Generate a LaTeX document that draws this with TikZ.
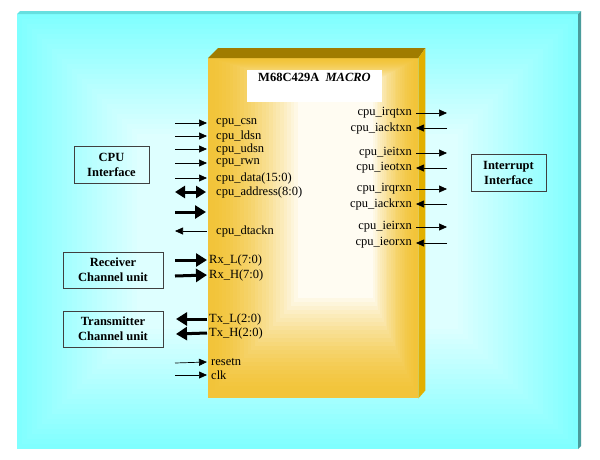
\documentclass[tikz,border=0pt]{standalone}
\usepackage{fontspec}
\setmainfont{Liberation Serif}
\usetikzlibrary{positioning,arrows.meta}

\definecolor{panelout}{HTML}{80FFFF}
\definecolor{panelin}{HTML}{E2FFFF}
\definecolor{paneltop}{HTML}{66E0E0}
\definecolor{panelside}{HTML}{4A9C9C}
\definecolor{chipgold}{HTML}{F2C43A}
\definecolor{chippale}{HTML}{FFFCF2}
\definecolor{chiptop}{HTML}{A07C00}
\definecolor{chipside}{HTML}{E2B000}

\begin{document}
\begin{tikzpicture}[x=1pt, y=-1pt,
  sig/.style={font=\fontsize{12.5}{14}\selectfont, inner ysep=1pt},
  lsig/.style={sig, anchor=west, inner xsep=9pt},
  lsigc/.style={sig, anchor=west, inner xsep=2pt},
  rsig/.style={sig, anchor=east, inner xsep=4pt},
  unit/.style={draw=black!75, line width=0.8pt, align=center, inner sep=0pt, minimum height=37pt, font=\fontsize{12.5}{15}\selectfont\bfseries},
  thinarr/.style={-{Triangle[length=8pt,width=7pt]}, line width=0.7pt},
  boldarr/.style={-{Triangle[length=11pt,width=13pt]}, line width=3pt},
  dboldarr/.style={{Triangle[length=10pt,width=12pt]}-{Triangle[length=10pt,width=12pt]}, line width=3pt}]

\useasboundingbox (0,0) rectangle (600,459);
\fill[white] (0,0) rectangle (600,459);

% panel
\foreach \i in {0,...,24} {
  \pgfmathtruncatemacro{\p}{\i*4}
  \fill[panelin!\p!panelout] (17+\i*5,14+\i*5) rectangle (578-\i*5,449-\i*5);
}
\fill[paneltop] (17,14) -- (20,11) -- (581,11) -- (578,14) -- cycle;
\fill[panelside] (578,14) -- (581,11) -- (581,446) -- (578,449) -- cycle;

% chip
\node[minimum width=210pt, minimum height=340pt, inner sep=0pt, anchor=north west] (chip) at (208,58) {};
\foreach \i in {0,...,25} {
  \pgfmathtruncatemacro{\p}{100*(\i/25)^1.6}
  \fill[chippale!\p!chipgold] (208+\i*3.6,58+\i*1) rectangle (418-\i*1.8,398-\i*4);
}
\fill[chiptop] (chip.north west) -- ([shift={(10,-10)}]chip.north west) -- ([shift={(7,-10)}]chip.north east) -- (chip.north east) -- cycle;
\fill[chipside] (chip.north east) -- ([shift={(7,-10)}]chip.north east) -- ([shift={(7,-8)}]chip.south east) -- (chip.south east) -- cycle;
\node[fill=white, minimum width=135pt, inner xsep=0pt, inner ysep=3pt, text height=8.5pt, text depth=17.5pt, anchor=north, font=\fontsize{12.5}{14}\selectfont\bfseries] (title) at (314.5,70) {M68C429A\ \ \textit{MACRO}};

% units
\node[unit, minimum width=75pt] (cpu) at (111.5,164.5) {CPU\\Interface};
\node[unit, minimum width=75pt] (intr) at (508.5,173) {Interrupt\\Interface};
\node[unit, minimum width=100pt, minimum height=36pt] (rcv) at (113,270) {Receiver\\Channel unit};
\node[unit, minimum width=100pt, minimum height=36pt] (xmt) at (113,329) {Transmitter\\Channel unit};

% cpu signals
\node[lsig] (csn) at (207,123) {cpu\_csn};
\node[lsig] (ldsn) at (207,136) {cpu\_ldsn};
\node[lsig] (udsn) at (207,149) {cpu\_udsn};
\node[lsig] (rwn) at (207,163) {cpu\_rwn};
\node[lsig] (data) at (207,178) {cpu\_data(15:0)};
\node[lsig] (addr) at (207,192) {cpu\_address(8:0)};
\node[lsig] (dtackn) at (207,231) {cpu\_dtackn};
\coordinate (csn-in) at (175,123);
\coordinate (ldsn-in) at (175,136);
\coordinate (udsn-in) at (175,149);
\coordinate (rwn-in) at (175,163);
\coordinate (data-in) at (175,178);
\coordinate (addr-in) at (175,192);
\coordinate (bus-in) at (175,212);
\coordinate (bus-out) at (206,212);
\coordinate (dtackn-out) at (175,231);

% channel signals
\node[lsigc] (rxl) at (207,260) {Rx\_L(7:0)};
\node[lsigc] (rxh) at (207,275) {Rx\_H(7:0)};
\node[lsigc] (txl) at (207,319) {Tx\_L(2:0)};
\node[lsigc] (txh) at (207,333) {Tx\_H(2:0)};
\node[lsigc, inner xsep=4pt] (resetn) at (207,362) {resetn};
\node[lsigc, inner xsep=4pt] (clk) at (207,375) {clk};
\coordinate (rxl-in) at (175,260);
\coordinate (rxh-in) at (175,276);
\coordinate (txl-out) at (176,319);
\coordinate (txh-out) at (176,334);
\coordinate (resetn-in) at (175,363);
\coordinate (clk-in) at (175,375);

% interrupt signals
\node[rsig] (irqtxn) at (416,113) {cpu\_irqtxn};
\node[rsig] (iacktxn) at (416,128) {cpu\_iacktxn};
\node[rsig] (ieitxn) at (416,153) {cpu\_ieitxn};
\node[rsig] (ieotxn) at (416,168) {cpu\_ieotxn};
\node[rsig] (irqrxn) at (416,189) {cpu\_irqrxn};
\node[rsig] (iackrxn) at (416,204) {cpu\_iackrxn};
\node[rsig] (ieirxn) at (416,227) {cpu\_ieirxn};
\node[rsig] (ieorxn) at (416,243) {cpu\_ieorxn};
\coordinate (irqtxn-out) at (447,113);
\coordinate (iacktxn-in) at (447,128);
\coordinate (ieitxn-out) at (447,153);
\coordinate (ieotxn-in) at (447,168);
\coordinate (irqrxn-out) at (447,189);
\coordinate (iackrxn-in) at (447,204);
\coordinate (ieirxn-out) at (447,227);
\coordinate (ieorxn-in) at (447,243);

\path
 (csn-in) edge[thinarr] (csn.west)
 (ldsn-in) edge[thinarr] (ldsn.west)
 (udsn-in) edge[thinarr] (udsn.west)
 (rwn-in) edge[thinarr] (rwn.west)
 (data-in) edge[thinarr] (data.west)
 (addr-in) edge[dboldarr, shorten >=1pt] (addr.west)
 (bus-in) edge[boldarr] (bus-out)
 (dtackn.west) edge[thinarr] (dtackn-out)
 (rxl-in) edge[boldarr] (rxl.west)
 (rxh-in) edge[boldarr] (rxh.west)
 (txl.west) edge[boldarr] (txl-out)
 (txh.west) edge[boldarr] (txh-out)
 (resetn-in) edge[thinarr] (resetn.west)
 (clk-in) edge[thinarr] (clk.west);

\path
 (irqtxn.east) edge[thinarr] (irqtxn-out)
 (iacktxn-in) edge[thinarr] (iacktxn.east)
 (ieitxn.east) edge[thinarr] (ieitxn-out)
 (ieotxn-in) edge[thinarr] (ieotxn.east)
 (irqrxn.east) edge[thinarr] (irqrxn-out)
 (iackrxn-in) edge[thinarr] (iackrxn.east)
 (ieirxn.east) edge[thinarr] (ieirxn-out)
 (ieorxn-in) edge[thinarr] (ieorxn.east);
\end{tikzpicture}
\end{document}
